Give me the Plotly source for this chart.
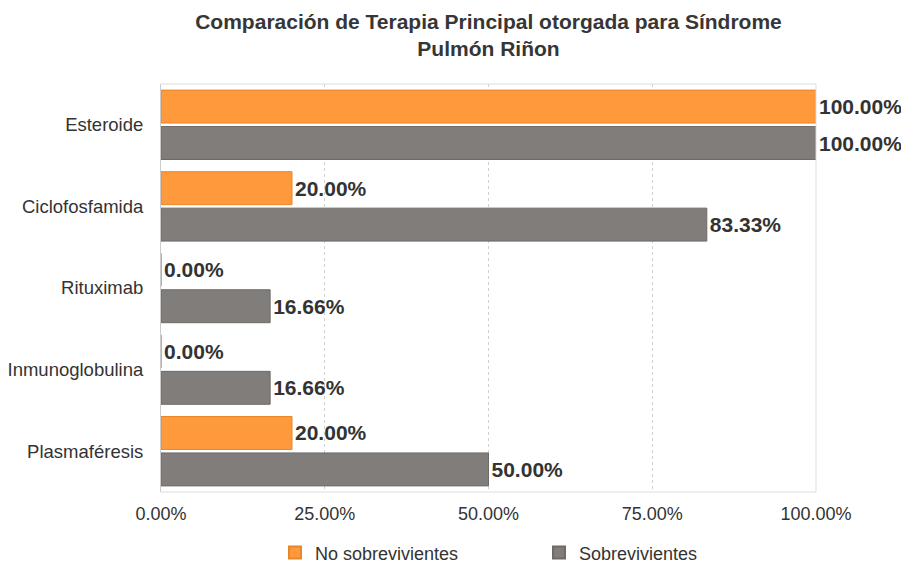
import plotly.graph_objects as go

categories = ["Esteroide", "Ciclofosfamida", "Rituximab", "Inmunoglobulina", "Plasmaféresis"]
no_sobrevivientes = [100.00, 20.00, 0.00, 0.00, 20.00]
sobrevivientes = [100.00, 83.33, 16.66, 16.66, 50.00]
tick_vals = [0, 25, 50, 75, 100]
tick_text = ["0.00%", "25.00%", "50.00%", "75.00%", "100.00%"]

font_family = "Liberation Sans, Arial, Helvetica, sans-serif"

fig = go.Figure()
fig.add_trace(go.Bar(
    y=categories, x=no_sobrevivientes, orientation="h", name="No sobrevivientes",
    marker=dict(color="#FF9A3C", line=dict(color="#E8862A", width=1)),
    text=[f"{v:.2f}%" for v in no_sobrevivientes], textposition="outside",
    textfont=dict(family=font_family, size=21, color="#333333", weight="bold"),
    cliponaxis=False,
))
fig.add_trace(go.Bar(
    y=categories, x=sobrevivientes, orientation="h", name="Sobrevivientes",
    marker=dict(color="#817D7A", line=dict(color="#6E6A67", width=1)),
    text=[f"{v:.2f}%" for v in sobrevivientes], textposition="outside",
    textfont=dict(family=font_family, size=21, color="#333333", weight="bold"),
    cliponaxis=False,
))

# the page body adds ~8px offset, so the figure is 8px smaller and margins shifted
fig.update_layout(
    width=901, height=555,
    barmode="group", bargap=0.107, bargroupgap=0.096,
    plot_bgcolor="white", paper_bgcolor="white",
    margin=dict(l=153, r=93, t=76, b=71, autoexpand=False),
    title=dict(text="<b>Comparación de Terapia Principal otorgada para Síndrome<br>Pulmón Riñon</b>",
               x=0.5333, xanchor="center", y=0.962, yanchor="top", automargin=False,
               font=dict(family=font_family, size=21, color="#363636")),
    font=dict(family=font_family, size=16, color="#333333"),
    showlegend=True,
    legend=dict(orientation="h", x=0.174, xanchor="left", y=-0.149, yanchor="middle",
                font=dict(size=18, color="#333333"), entrywidth=219,
                itemsizing="constant"),
)
fig.update_xaxes(range=[0, 100], tickvals=tick_vals, ticktext=tick_text,
                 showgrid=True, gridcolor="#D0D0D0", griddash="dot", gridwidth=1,
                 zeroline=False, showline=False, ticks="", tickfont=dict(size=18),
                 ticklabelstandoff=9, automargin=False)
fig.update_yaxes(autorange="reversed", showline=True, linecolor="#CCCCCC", linewidth=1,
                 ticks="", tickfont=dict(size=18.5), ticklabelstandoff=13, automargin=False)
fig.add_shape(type="line", xref="paper", yref="paper", x0=0, x1=1, y0=1, y1=1,
              line=dict(color="#DDDDDD", width=1))
fig.add_shape(type="line", xref="paper", yref="paper", x0=1, x1=1, y0=0, y1=1,
              line=dict(color="#DDDDDD", width=1))
fig.add_shape(type="line", xref="paper", yref="paper", x0=0, x1=1, y0=0, y1=0,
              line=dict(color="#DDDDDD", width=1))

fig.write_html("out.html")
